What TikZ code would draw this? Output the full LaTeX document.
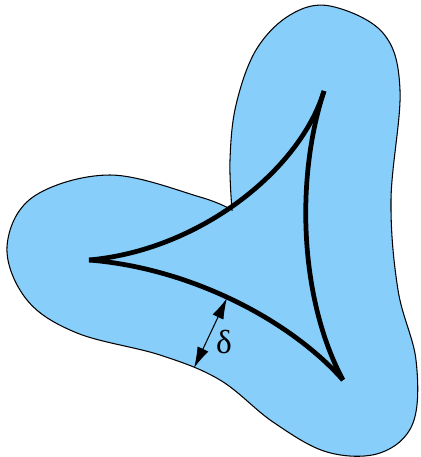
\documentclass[tikz,border=0pt]{standalone}
\usepackage{fontspec}
\setmainfont{Liberation Serif}
\definecolor{SetBlue}{RGB}{135, 206, 250}
\usepackage{tikz}
\usetikzlibrary{arrows.meta}

\begin{document}
\begin{tikzpicture}[
          x=0.02cm, y=-0.02cm,
          blob/.style={
            fill=SetBlue,
            draw=black,
            line width=0.6pt
          },
          curve/.style={line width=2.7pt, line cap=butt, black},
          gap/.style={{Latex[length=4.2mm,width=2.4mm]}-{Latex[length=4.2mm,width=2.4mm]}, line width=0.6pt}
        ]
        \useasboundingbox (0,0) rectangle (420,457);
        % neighbourhood of the curve
        \draw[blob] plot[smooth, tension=0.6] coordinates {
            (232,210) (230,160) (236,105) (256,50) (290,15) (330,6)
            (383,33) (400,90) (391,200) (398,290) (416,360) (413,423)
            (380,453) (327,452) (273,422) (220,380) (160,355) (77,333)
            (27,300) (7,247) (33,197) (110,175) (200,197) (232,210)
          } -- cycle;
        % cusps
        \coordinate (left) at (89,260);
        \coordinate (top) at (324,91);
        \coordinate (right) at (343,380);
        \draw[curve] (left) .. controls (200,250) and (300,170) .. (top);
        \draw[curve] (left) .. controls (190,268) and (290,320) .. (right);
        \draw[curve] (top) .. controls (295,180) and (300,300) .. (right);
        % width of the band
        \coordinate (inner) at (227,298);
        \coordinate (outer) at (194,368);
        \draw[gap] (inner) -- (outer);
        \node[font=\fontsize{19}{22}\selectfont] (delta) at (224,342) {δ};
      \end{tikzpicture}
\end{document}
